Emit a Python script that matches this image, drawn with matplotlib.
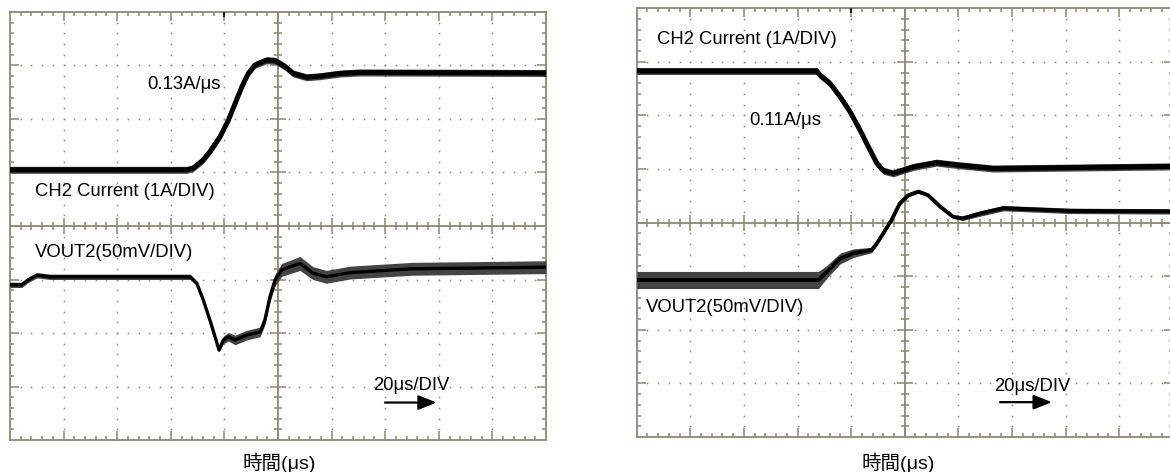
import matplotlib
matplotlib.use("Agg")
import matplotlib.pyplot as plt
import numpy as np
from matplotlib.collections import LineCollection

plt.rcParams['font.family'] = ['Liberation Sans', 'Noto Sans CJK JP', 'DejaVu Sans']

# ---------------- waveform data (time in µs, level in divisions from bottom) ---
# Load step up: CH2 current and VOUT2
rise_cur_t = [0, 66, 68.3, 72, 74.6, 78.4, 81.5, 84, 86.5, 88.9, 91.4, 95.8,
              98.9, 102.6, 105.7, 110.7, 115.7, 123.1, 130.6, 200]
rise_cur_v = [5.05, 5.05, 5.08, 5.23, 5.39, 5.67, 5.98, 6.29, 6.60, 6.85, 7.01,
              7.10, 7.09, 6.98, 6.85, 6.78, 6.80, 6.85, 6.87, 6.86]
rise_cur_noise = [0.065] * len(rise_cur_t)

rise_vout_t = [0, 4.4, 6.7, 10, 14.9, 65.9, 67.2, 69.7, 72.1, 74.6, 76.5, 78,
               79.6, 81.5, 84, 88.3, 93.3, 95.1, 97, 98.9, 101.4, 108.2, 113,
               118, 127, 150, 200]
rise_vout_v = [2.90, 2.90, 2.99, 3.08, 3.05, 3.05, 3.05, 2.93, 2.62, 2.24, 1.93,
               1.68, 1.87, 1.93, 1.87, 1.96, 2.02, 2.24, 2.68, 2.99, 3.18, 3.30,
               3.12, 3.05, 3.13, 3.20, 3.23]
rise_vout_noise = [0.05, 0.05, 0.05, 0.05, 0.05, 0.05, 0.05, 0.04, 0.03, 0.03,
                   0.03, 0.03, 0.07, 0.08, 0.09, 0.09, 0.09, 0.09, 0.1, 0.11,
                   0.12, 0.13, 0.12, 0.12, 0.12, 0.12, 0.12]

# Load step down: CH2 current and VOUT2
fall_cur_t = [0, 67.2, 68.4, 72.1, 75.9, 79.6, 83.3, 86.4, 89.6, 92, 95.7, 99.5,
              103.2, 111.9, 120.6, 133.1, 200]
fall_cur_v = [6.83, 6.83, 6.75, 6.60, 6.35, 6.07, 5.73, 5.42, 5.11, 4.97, 4.92,
              4.98, 5.04, 5.12, 5.07, 5.01, 5.05]
fall_cur_noise = [0.065] * len(fall_cur_t)

fall_vout_t = [0, 67.8, 70.9, 75.9, 80.8, 87.7, 89.6, 92, 95.1, 98.2, 101.3,
               105.1, 108.8, 113.2, 118.1, 121.6, 128.1, 136.8, 161.7, 200]
fall_vout_v = [2.93, 2.93, 3.08, 3.33, 3.43, 3.49, 3.61, 3.80, 4.05, 4.36, 4.51,
               4.58, 4.51, 4.30, 4.11, 4.08, 4.17, 4.27, 4.22, 4.21]
fall_vout_noise = [0.16, 0.16, 0.12, 0.10, 0.08, 0.05, 0.03, 0.03, 0.03, 0.03,
                   0.03, 0.03, 0.03, 0.03, 0.03, 0.04, 0.05, 0.05, 0.05, 0.05]

# ---------------- graticule ----------------------------------------------------
GRID = '#8c8872'
DOT = '#8a8a80'
X_DIV, Y_DIV = 10, 8
T_PER_DIV = 20.0
PX_X = 536.0 / (X_DIV * T_PER_DIV)   # pixels per µs
PX_Y = 428.0 / Y_DIV                 # pixels per division


def graticule(ax):
    ax.set_xlim(0, X_DIV * T_PER_DIV)
    ax.set_ylim(0, Y_DIV)
    ax.set_xticks([])
    ax.set_yticks([])
    for s in ax.spines.values():
        s.set_color(GRID)
        s.set_linewidth(1.3)
        s.set_zorder(3)

    xmid = X_DIV / 2 * T_PER_DIV
    ymid = Y_DIV / 2
    # dotted major lines
    ys = np.arange(0, Y_DIV + 1e-9, 0.2)
    xs = np.arange(0, X_DIV * T_PER_DIV + 1e-9, T_PER_DIV / 5)
    for k in range(1, X_DIV):
        if k == X_DIV // 2:
            continue
        ax.plot(np.full_like(ys, k * T_PER_DIV), ys, ls='none', marker='s',
                ms=1.1, mew=0, color=DOT, zorder=1)
    for k in range(1, Y_DIV):
        if k == Y_DIV // 2:
            continue
        ax.plot(xs, np.full_like(xs, k), ls='none', marker='s', ms=1.1,
                mew=0, color=DOT, zorder=1)

    # centre cross
    ax.axvline(xmid, color=GRID, lw=1.3, zorder=1)
    ax.axhline(ymid, color=GRID, lw=1.3, zorder=1)

    segs = []
    minor_len, major_len = 4.0, 9.0
    # ticks along horizontal edges and centre line
    for i in range(1, X_DIV * 5):
        x = i * T_PER_DIV / 5
        major = (i % 5 == 0)
        L = (major_len if major else minor_len) / PX_Y
        segs.append([(x, 0), (x, L)])
        segs.append([(x, Y_DIV), (x, Y_DIV - L)])
        c = (8.0 if major else 4.0) / PX_Y
        segs.append([(x, ymid - c), (x, ymid + c)])
    # ticks along vertical edges and centre line
    for j in range(1, Y_DIV * 5):
        y = j * 0.2
        major = (j % 5 == 0)
        L = (major_len if major else minor_len) / PX_X
        segs.append([(0, y), (L, y)])
        segs.append([(X_DIV * T_PER_DIV, y), (X_DIV * T_PER_DIV - L, y)])
        c = (8.0 if major else 4.0) / PX_X
        segs.append([(xmid - c, y), (xmid + c, y)])
    ax.add_collection(LineCollection(segs, colors=GRID, linewidths=1.1, zorder=1))
    # trigger marker at the top edge
    ax.plot([4 * T_PER_DIV] * 2, [Y_DIV, Y_DIV - 5 / PX_Y], color='#222222',
            lw=1.6, zorder=4, solid_capstyle='butt')


def trace(ax, t, v, noise, lw):
    t = np.asarray(t, float)
    v = np.asarray(v, float)
    n = np.asarray(noise, float)
    ax.fill_between(t, v - n, v + n, color='#444444', lw=0, zorder=4)
    ax.plot(t, v, color='black', lw=lw, zorder=5, solid_joinstyle='round')


def timebase_arrow(ax, x0, x1, y):
    ax.annotate('', xy=(x1, y), xytext=(x0, y),
                arrowprops=dict(arrowstyle='-|>,head_length=0.55,head_width=0.22',
                                mutation_scale=20, lw=1.6, color='black',
                                shrinkA=0, shrinkB=0), zorder=6)


W, H = 1170, 472
fig = plt.figure(figsize=(W / 100, H / 100), dpi=100)
ax1 = fig.add_axes([10 / W, (H - 440) / H, 536 / W, 428 / H])
ax2 = fig.add_axes([636.7 / W, (H - 437) / H, 536 / W, 428.7 / H])

FS = 13.3
for ax in (ax1, ax2):
    graticule(ax)

# step up
trace(ax1, rise_cur_t, rise_cur_v, rise_cur_noise, 3.6)
trace(ax1, rise_vout_t, rise_vout_v, rise_vout_noise, 2.4)
ax1.text(51.1, 6.65, '0.13A/μs', fontsize=FS, ha='left', va='center', zorder=7)
ax1.text(9.3, 4.64, 'CH2 Current (1A/DIV)', fontsize=FS, ha='left', va='center', zorder=7)
ax1.text(9.3, 3.50, 'VOUT2(50mV/DIV)', fontsize=FS, ha='left', va='center', zorder=7)
ax1.text(135.6, 1.01, '20μs/DIV', fontsize=FS, ha='left', va='center', zorder=7)
timebase_arrow(ax1, 139.9, 159.2, 0.70)

# step down
trace(ax2, fall_cur_t, fall_cur_v, fall_cur_noise, 3.6)
trace(ax2, fall_vout_t, fall_vout_v, fall_vout_noise, 2.8)
ax2.text(7.5, 7.42, 'CH2 Current (1A/DIV)', fontsize=FS, ha='left', va='center', zorder=7)
ax2.text(42.0, 5.91, '0.11A/μs', fontsize=FS, ha='left', va='center', zorder=7)
ax2.text(3.5, 2.42, 'VOUT2(50mV/DIV)', fontsize=FS, ha='left', va='center', zorder=7)
ax2.text(133.3, 0.95, '20μs/DIV', fontsize=FS, ha='left', va='center', zorder=7)
timebase_arrow(ax2, 135.6, 154.9, 0.65)

fig.text(279 / W, 1 - 463 / H, '時間(μs)', fontsize=14, ha='center', va='center')
fig.text(898 / W, 1 - 463 / H, '時間(μs)', fontsize=14, ha='center', va='center')

fig.savefig('out.png', dpi=100)
